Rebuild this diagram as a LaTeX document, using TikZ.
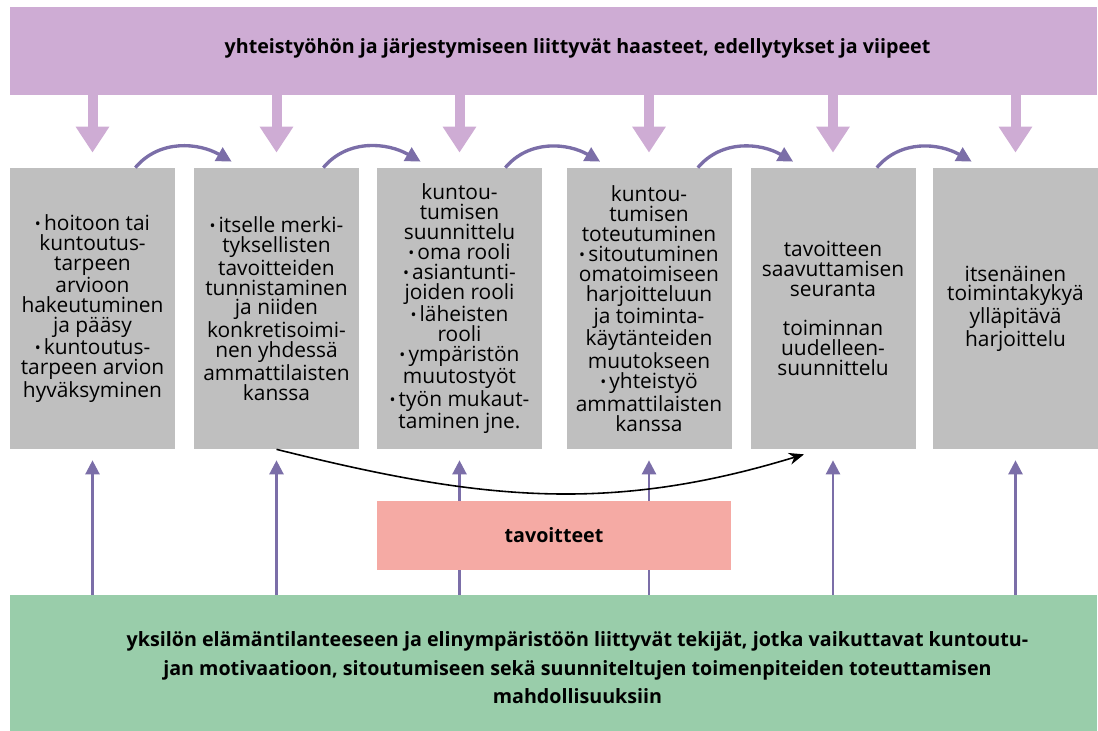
\documentclass[tikz,border=0pt]{standalone}
\usepackage{fontspec}
\setmainfont{Open Sans}
\usetikzlibrary{arrows.meta}

\definecolor{lilac}{HTML}{CEACD4}
\definecolor{violetline}{HTML}{7B6EA8}
\definecolor{boxgrey}{HTML}{BFBFBF}
\definecolor{rose}{HTML}{F5AAA4}
\definecolor{mint}{HTML}{99CDAA}

\newcommand{\pallo}{\raisebox{.1ex}{\small•}\hspace{.15em}}

\tikzset{
  phase/.style={fill=boxgrey, minimum width=3.3cm, minimum height=5.62cm,
    align=center, inner sep=0pt, font=\fontsize{11.9}{11.34}\selectfont},
  push/.style={draw=lilac, line width=0.2cm, -{Triangle[width=0.64cm,length=0.52cm]}},
  lift/.style={draw=violetline, line width=1.4pt, -{Triangle[width=0.28cm,length=0.28cm]}},
  hop/.style={draw=violetline, line width=1.9pt, -{Triangle[width=0.3cm,length=0.3cm]}},
}

\begin{document}
\begin{tikzpicture}
    \useasboundingbox (0,0) rectangle (21.96,14.62);

    % yläpalkki
    \node[fill=lilac, minimum width=21.74cm, minimum height=1.76cm, inner sep=0pt] (haasteet) at (11.07,13.60) {};
    \node[font=\bfseries\fontsize{11.2}{13}\selectfont] (haasteetteksti) at (11.55,13.66)
        {yhteistyöhön ja järjestymiseen liittyvät haasteet, edellytykset ja viipeet};

    % vaiheet
    \node[phase] (hakeutuminen) at (1.85,8.45) {\pallo hoitoon tai\\kuntoutus-\\tarpeen\\arvioon\\hakeutuminen\\ja pääsy\\\pallo kuntoutus-\\tarpeen arvion\\hyväksyminen};
    \node[phase] (tunnistaminen) at (5.53,8.45) {\pallo itselle merki-\\tyksellisten\\tavoitteiden\\tunnistaminen\\ja niiden\\konkretisoimi-\\nen yhdessä\\ammattilaisten\\kanssa};
    \node[phase] (suunnittelu) at (9.19,8.45) {kuntou-\\tumisen\\suunnittelu\\\pallo oma rooli\\\pallo asiantunti-\\joiden rooli\\\pallo läheisten\\rooli\\\pallo ympäristön\\muutostyöt\\\pallo työn mukaut-\\taminen jne.};
    \node[phase] (toteutuminen) at (12.98,8.45) {kuntou-\\tumisen\\toteutuminen\\\pallo sitoutuminen\\omatoimiseen\\harjoitteluun\\ja toiminta-\\käytänteiden\\muutokseen\\\pallo yhteistyö\\ammattilaisten\\kanssa};
    \node[phase] (seuranta) at (16.66,8.45) {tavoitteen\\saavuttamisen\\seuranta\\\mbox{}\\toiminnan\\uudelleen-\\suunnittelu};
    \node[phase] (yllapito) at (20.31,8.45) {itsenäinen\\toimintakykyä\\ylläpitävä\\harjoittelu};

    % alapalkki
    \node[fill=mint, minimum width=21.74cm, minimum height=2.72cm, inner sep=0pt] (tekijat) at (11.07,1.36) {};
    \node[align=center, font=\bfseries\fontsize{11.2}{16.2}\selectfont] (tekijatteksti) at (11.55,1.26)
        {yksilön elämäntilanteeseen ja elinympäristöön liittyvät tekijät, jotka vaikuttavat kuntoutu-\\jan motivaatioon, sitoutumiseen sekä suunniteltujen toimenpiteiden toteuttamisen\\mahdollisuuksiin};

    % nuolet ylhäältä
    \draw[push] (haasteet.south -| hakeutuminen) -- ([yshift=0.3cm]hakeutuminen.north);
    \draw[push] (haasteet.south -| tunnistaminen) -- ([yshift=0.3cm]tunnistaminen.north);
    \draw[push] (haasteet.south -| suunnittelu) -- ([yshift=0.3cm]suunnittelu.north);
    \draw[push] (haasteet.south -| toteutuminen) -- ([yshift=0.3cm]toteutuminen.north);
    \draw[push] (haasteet.south -| seuranta) -- ([yshift=0.3cm]seuranta.north);
    \draw[push] (haasteet.south -| yllapito) -- ([yshift=0.3cm]yllapito.north);

    % nuolet alhaalta
    \draw[lift] (tekijat.north -| hakeutuminen) -- ([yshift=-0.22cm]hakeutuminen.south);
    \draw[lift] (tekijat.north -| tunnistaminen) -- ([yshift=-0.22cm]tunnistaminen.south);
    \draw[lift] (tekijat.north -| suunnittelu) -- ([yshift=-0.22cm]suunnittelu.south);
    \draw[lift] (tekijat.north -| toteutuminen) -- ([yshift=-0.22cm]toteutuminen.south);
    \draw[lift] (tekijat.north -| seuranta) -- ([yshift=-0.22cm]seuranta.south);
    \draw[lift] (tekijat.north -| yllapito) -- ([yshift=-0.22cm]yllapito.south);

    \node[fill=rose, minimum width=7.08cm, minimum height=1.38cm, font=\bfseries\fontsize{11.2}{13}\selectfont] (tavoitteet) at (11.08,3.91) {tavoitteet};

    % vaiheesta toiseen
    \draw[hop] ([xshift=-0.8cm]hakeutuminen.north east) to[out=50,in=150] ([xshift=0.76cm,yshift=0.12cm]tunnistaminen.north west);
    \draw[hop] ([xshift=-0.72cm]tunnistaminen.north east) to[out=50,in=150] ([xshift=0.88cm,yshift=0.12cm]suunnittelu.north west);
    \draw[hop] ([xshift=-0.74cm]suunnittelu.north east) to[out=50,in=150] ([xshift=0.68cm,yshift=0.12cm]toteutuminen.north west);
    \draw[hop] ([xshift=-0.68cm]toteutuminen.north east) to[out=50,in=150] ([xshift=0.86cm,yshift=0.12cm]seuranta.north west);
    \draw[hop] ([xshift=-0.78cm]seuranta.north east) to[out=50,in=150] ([xshift=0.78cm,yshift=0.12cm]yllapito.north west);

    \draw[line width=0.9pt, -{Stealth[length=0.3cm,width=0.24cm]}] (tunnistaminen.south) to[out=-14,in=197] ([xshift=-0.58cm,yshift=-0.1cm]seuranta.south);
\end{tikzpicture}
\end{document}
